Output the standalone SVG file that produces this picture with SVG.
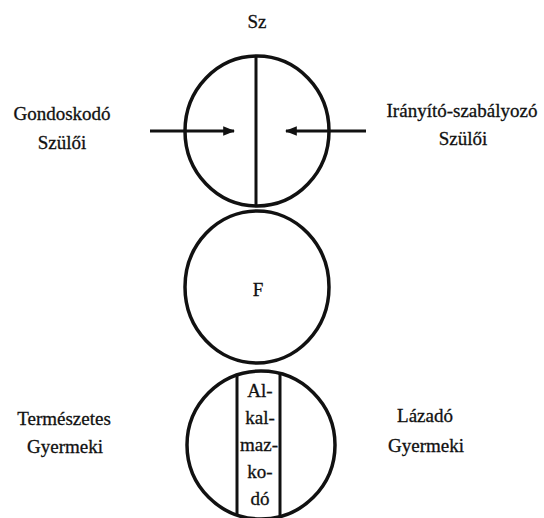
<svg xmlns="http://www.w3.org/2000/svg" width="544" height="518" viewBox="0 0 544 518">
<defs>
<style>
text{font-family:"Liberation Serif","DejaVu Serif",serif;font-size:19px;fill:#111;text-anchor:middle;stroke:#111;stroke-width:0.3}
.c{fill:none;stroke:#111;stroke-width:3.5}
.l{stroke:#111;stroke-width:3;fill:none}
</style>
<marker id="ah" viewBox="0 0 10 10" refX="9" refY="5" markerWidth="4" markerHeight="4" orient="auto" markerUnits="strokeWidth">
<path d="M0,1 L10,5 L0,9 z" fill="#111"/>
</marker>
</defs>
<rect width="544" height="518" fill="#fff"/>
<g id="szulo">
<ellipse class="c" cx="257" cy="131" rx="72" ry="75"/>
<line class="l" x1="256" y1="56" x2="256" y2="206"/>
<text x="257" y="28">Sz</text>
</g>
<g id="felnott">
<ellipse class="c" cx="257" cy="287" rx="72" ry="76"/>
<text x="258" y="296">F</text>
</g>
<g id="gyermek">
<ellipse class="c" cx="261" cy="445" rx="74" ry="74"/>
<line class="l" x1="237" y1="374" x2="237" y2="516"/>
<line class="l" x1="280" y1="374" x2="280" y2="516"/>
<text x="260" y="397">Al-</text>
<text x="260" y="424">kal-</text>
<text x="259" y="451">maz-</text>
<text x="260" y="478">ko-</text>
<text x="260" y="505">dó</text>
</g>
<g id="gondoskodo">
<text x="62" y="120">Gondoskodó</text>
<text x="62" y="149">Szülői</text>
</g>
<g id="iranyito">
<text x="462" y="117">Irányító-szabályozó</text>
<text x="463" y="145">Szülői</text>
</g>
<g id="termeszetes">
<text x="64" y="425">Természetes</text>
<text x="65" y="453">Gyermeki</text>
</g>
<g id="lazado">
<text x="425" y="422">Lázadó</text>
<text x="426" y="452">Gyermeki</text>
</g>
<g id="connectors">
<line class="l" x1="150" y1="131" x2="234" y2="131" marker-end="url(#ah)"/>
<line class="l" x1="366" y1="131" x2="286" y2="131" marker-end="url(#ah)"/>
</g>
</svg>
